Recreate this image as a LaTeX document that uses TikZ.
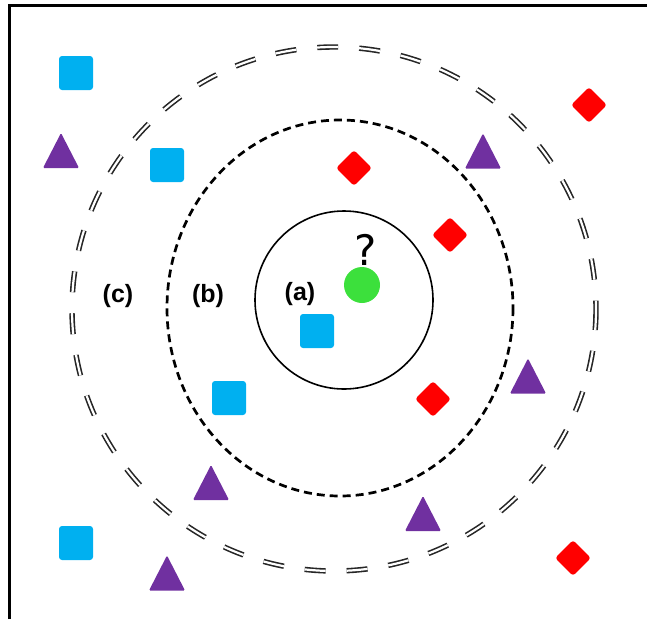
\documentclass[tikz,border=0pt]{standalone}
\usepackage{fontspec}
\usetikzlibrary{shapes.geometric}
\newfontfamily\lblfont{Liberation Sans}
\newfontfamily\qfont{DejaVu Sans}
\definecolor{sqcol}{RGB}{0,176,240}
\definecolor{tricol}{RGB}{112,48,160}
\definecolor{dicol}{RGB}{255,0,0}
\definecolor{grcol}{RGB}{60,224,60}
\tikzset{
  sqbox/.style={rectangle, fill=sqcol, minimum width=34pt, minimum height=34pt, inner sep=0pt, rounded corners=3pt},
  dibox/.style={diamond, fill=dicol, minimum width=36pt, minimum height=36pt, inner sep=0pt, rounded corners=3pt},
  tri/.pic={\fill[tricol, rounded corners=1.2pt] (-18,17.5) -- (0,-17.5) -- (18,17.5) -- cycle;},
  lbl/.style={font=\lblfont\bfseries\fontsize{25}{25}\selectfont, inner sep=0pt, anchor=center},
  outerring/.style={draw=black!85, line width=1.6pt, double=white, double distance=2.2pt, dash pattern=on 21pt off 21pt},
  midring/.style={draw=black, line width=2.7pt, dash pattern=on 8pt off 5pt},
  innerring/.style={draw=black, line width=1.6pt},
  frameline/.style={draw=black, line width=3pt}
}
\begin{document}
\begin{tikzpicture}[x=1pt,y=-1pt]
\useasboundingbox (0,0) rectangle (647,619);
% frame
\coordinate (fbl) at (9,619);
\coordinate (ftl) at (9,5);
\coordinate (ftr) at (647,5);
\draw[frameline] (fbl) -- (ftl) -- (ftr);
% rings
\coordinate (oc) at (334,309);
\coordinate (mc) at (340,308);
\coordinate (ic) at (344,300);
\draw[outerring] (oc) circle[radius=262];
\draw[midring] (mc) ellipse[x radius=173, y radius=188];
\draw[innerring] (ic) circle[radius=89];
% squares
\node[sqbox] (s1) at (76,73) {};
\node[sqbox] (s2) at (167,165) {};
\node[sqbox] (s3) at (317,331) {};
\node[sqbox] (s4) at (229,398) {};
\node[sqbox] (s5) at (76,543) {};
% diamonds
\node[dibox] (d1) at (589,105) {};
\node[dibox] (d2) at (354,168) {};
\node[dibox] (d3) at (450,235) {};
\node[dibox] (d4) at (433,399) {};
\node[dibox] (d5) at (573,558) {};
% triangles
\pic at (61,150.5) {tri};
\pic at (483,151) {tri};
\pic at (528,376) {tri};
\pic at (211,482.5) {tri};
\pic at (423,513.5) {tri};
\pic at (167,573) {tri};
% query point
\node[circle, fill=grcol, minimum size=36pt, inner sep=0pt] (q) at (362,285) {};
\node[font=\qfont\fontsize{42}{42}\selectfont, inner sep=0pt, anchor=base] (qm) at (366,265) {?};
% labels
\node[lbl] (la) at (300,294) {(a)};
\node[lbl] (lb) at (208,296) {(b)};
\node[lbl] (lc) at (118,296) {(c)};
\end{tikzpicture}
\end{document}
